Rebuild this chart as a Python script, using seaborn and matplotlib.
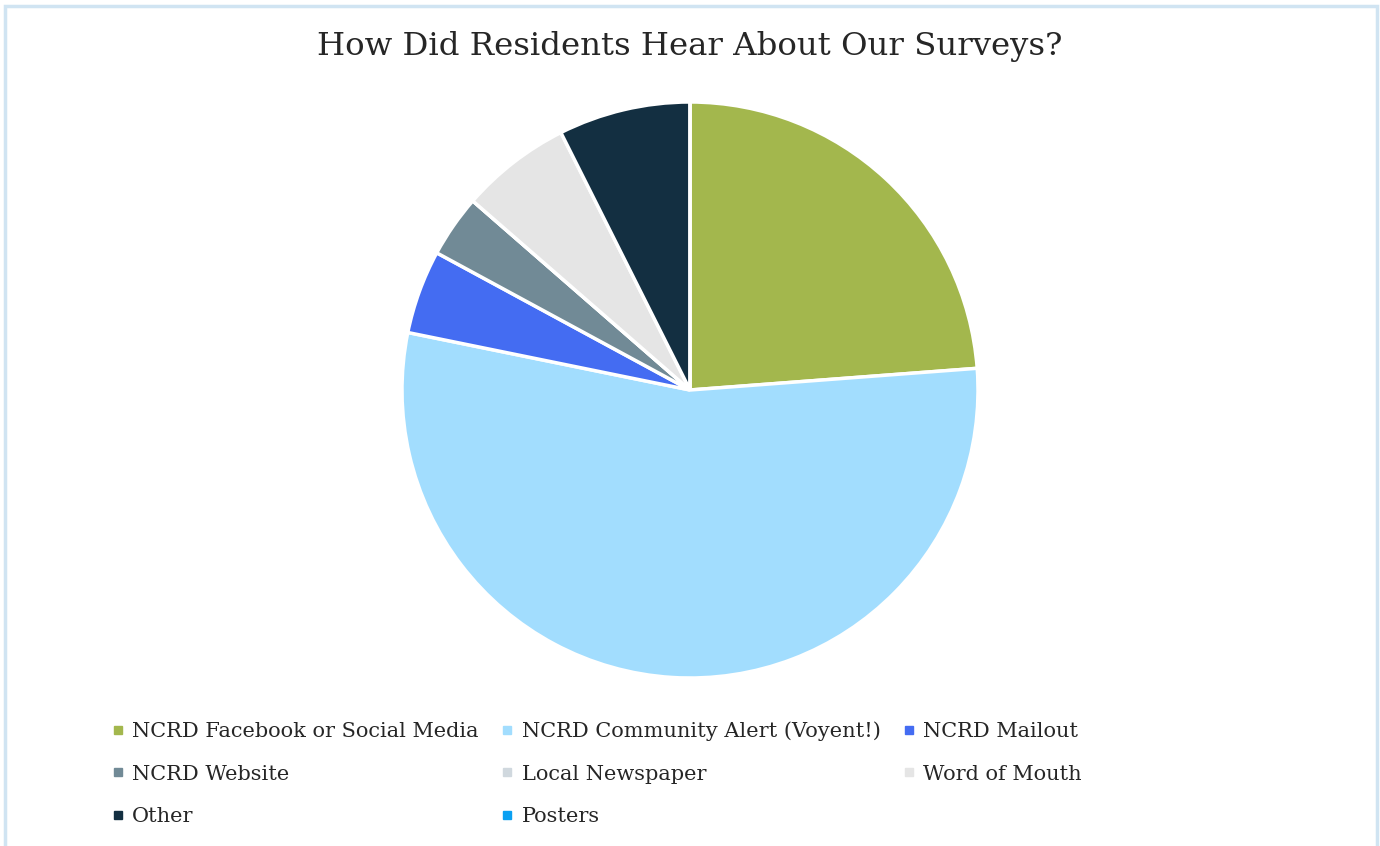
import matplotlib.pyplot as plt
import seaborn as sns
from matplotlib.lines import Line2D
from matplotlib.patches import Rectangle

# survey answers, share of responses (%)
sources = ['NCRD Facebook or Social Media', 'NCRD Community Alert (Voyent!)', 'NCRD Mailout',
           'NCRD Website', 'Local Newspaper', 'Word of Mouth', 'Other', 'Posters']
shares = [23.8, 54.4, 4.7, 3.5, 0.0, 6.2, 7.4, 0.0]
colors = ['#A3B74D', '#A2DDFE', '#446CF2', '#718A96', '#D0D8DE', '#E5E5E5', '#132F41', '#0AA0F2']

sns.set_theme(style='white')
plt.rcParams['font.family'] = ['DejaVu Serif']

W, H = 1380, 846
fig = plt.figure(figsize=(W / 100, H / 100), dpi=100)

# thin light-blue frame around the chart area
fig.patches.append(Rectangle((5 / W, -0.01), (W - 8) / W, 1 - 6 / H + 0.01, transform=fig.transFigure,
                             fill=False, edgecolor='#D0E4F2', linewidth=2.5))

cx, cy, r = 690, 390, 288
pad = 1.02
ax = fig.add_axes([(cx - r * pad) / W, (H - cy - r * pad) / H, 2 * r * pad / W, 2 * r * pad / H])
ax.pie(shares, colors=colors, startangle=90, counterclock=False,
       wedgeprops=dict(edgecolor='white', linewidth=2.5))
ax.set_xlim(-pad, pad)
ax.set_ylim(-pad, pad)
ax.set_aspect('equal')
ax.axis('off')

fig.text(cx / W, 1 - 46 / H, 'How Did Residents Hear About Our Surveys?', ha='center', va='center',
         fontsize=23.3, color='#262626')

# legend is read row by row, matplotlib fills columns, so reorder
order = [0, 3, 6, 1, 4, 7, 2, 5]
handles = [Line2D([], [], marker='s', linestyle='', markersize=6, color=colors[i]) for i in order]
labels = [sources[i] for i in order]
fig.legend(handles, labels, ncol=3, loc='upper left', bbox_to_anchor=(103 / W, 1 - 713 / H),
           frameon=False, fontsize=15, handlelength=0.6, handletextpad=0.4, columnspacing=1.06,
           labelspacing=1.13, labelcolor='#262626', borderaxespad=0)

fig.savefig('out.png', dpi=100)
